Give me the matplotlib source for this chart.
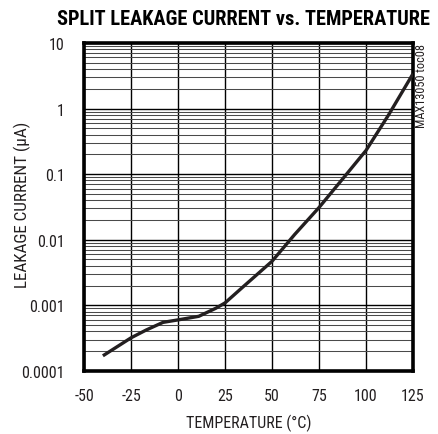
import matplotlib
matplotlib.use("Agg")
import matplotlib.pyplot as plt
from matplotlib.ticker import LogLocator, NullFormatter, FixedLocator
import numpy as np

NARROW = ["Roboto Condensed", "Archivo Narrow", "Liberation Sans Narrow", "DejaVu Sans"]
matplotlib.rcParams.update({
    "font.family": NARROW,
    "font.size": 10,
})

# Temperature (°C) and split leakage current (µA)
temperature = [-40, -25, -17, -8, 0, 11, 20, 25, 34, 50, 62, 75, 89, 100, 112, 125]
leakage_ua = [1.7e-4, 3.2e-4, 4.2e-4, 5.5e-4, 6.0e-4, 6.8e-4, 9.0e-4, 1.09e-3,
              1.85e-3, 4.7e-3, 1.2e-2, 3.1e-2, 9.5e-2, 0.23, 0.8, 3.4]

x_ticks = [-50, -25, 0, 25, 50, 75, 100, 125]
y_ticks = [1e-4, 1e-3, 1e-2, 1e-1, 1, 10]
y_tick_labels = ["0.0001", "0.001", "0.01", "0.1", "1", "10"]

fig = plt.figure(figsize=(4.38, 4.35), dpi=100)
ax = fig.add_axes([0.192, 0.145, 0.751, 0.754])

ax.set_yscale("log")
ax.set_xlim(-50, 125)
ax.set_ylim(1e-4, 10)

ax.plot(temperature, leakage_ua, color="#231f20", linewidth=2.4,
        solid_capstyle="butt", zorder=3)

ax.xaxis.set_major_locator(FixedLocator(x_ticks))
ax.set_xticklabels([str(t) for t in x_ticks])
ax.yaxis.set_major_locator(FixedLocator(y_ticks))
ax.set_yticklabels(y_tick_labels)
ax.yaxis.set_minor_locator(LogLocator(base=10, subs=np.arange(2, 10), numticks=20))
ax.yaxis.set_minor_formatter(NullFormatter())

ax.tick_params(axis="both", which="both", length=0, labelsize=11.5, colors="#231f20")
ax.tick_params(axis="x", pad=12)
ax.tick_params(axis="y", pad=14)

ax.grid(True, which="major", axis="both", color="#000000", linewidth=1.0)
ax.grid(True, which="minor", axis="y", color="#4a4a4a", linewidth=0.75)

for sp in ax.spines.values():
    sp.set_linewidth(2.6)
    sp.set_color("#000000")

ax.set_xlabel("TEMPERATURE (°C)", fontsize=11.5, color="#231f20", labelpad=8)
ax.set_ylabel("LEAKAGE CURRENT (µA)", fontsize=12.3, color="#231f20")
ax.yaxis.set_label_coords(-0.16, 0.51)

fig.text(0.555, 0.955, "SPLIT LEAKAGE CURRENT vs. TEMPERATURE",
         ha="center", va="center", fontsize=14.7, fontweight="bold", color="#000000")
fig.text(0.963, 0.898, "MAX13050 toc08", rotation=90, ha="center", va="top",
         fontsize=8.8, color="#231f20")

fig.savefig("out.png", dpi=100)
